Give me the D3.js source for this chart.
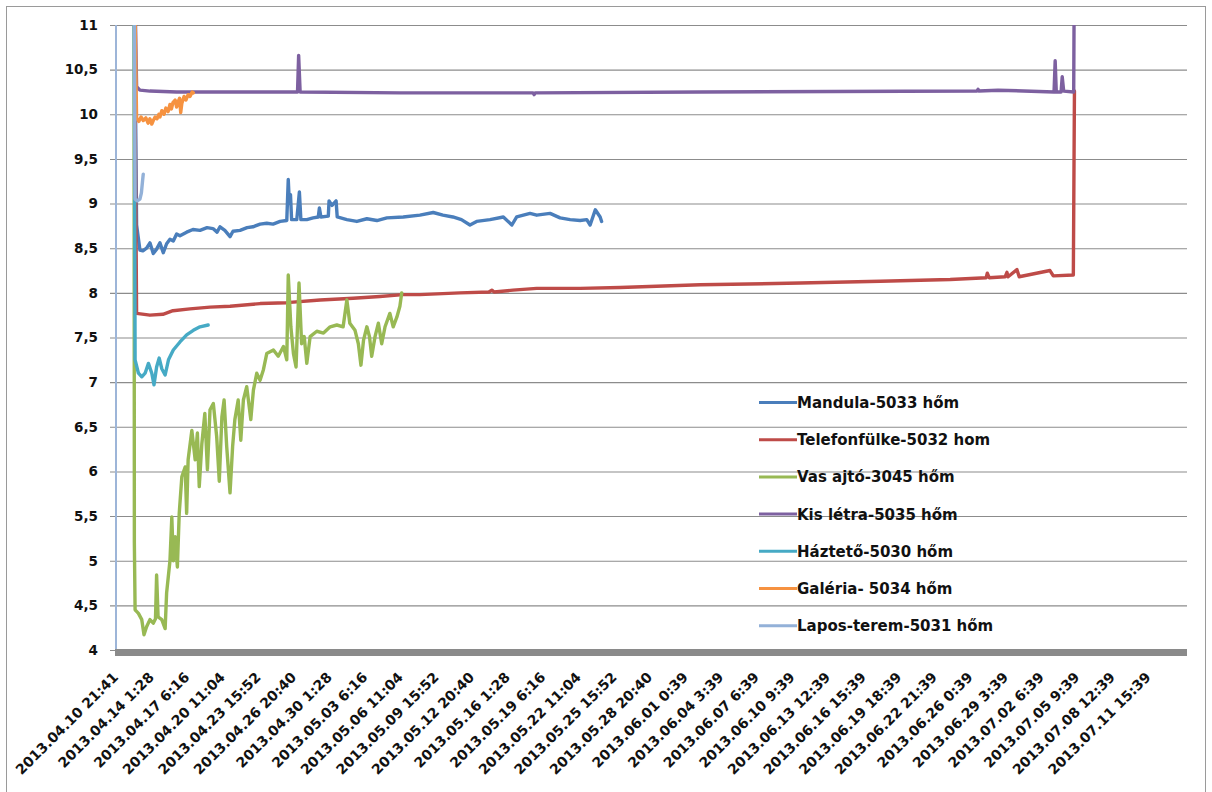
<!DOCTYPE html>
<html><head><meta charset="utf-8">
<script src="https://cdn.jsdelivr.net/npm/d3@7/dist/d3.min.js"></script>
<style>
html,body{margin:0;padding:0;background:#fff;}
svg{display:block;}
text{font-family:"DejaVu Sans",sans-serif;font-weight:bold;fill:#111;}
</style></head>
<body>
<svg id="chart" width="1212" height="792"></svg>
<script>
// ---- data ----
const categoryCount = 2888;       // number of rows on the category axis
const labelEvery = 96;            // a label every 96 rows
const tickLabels = [
  "2013.04.10 21:41","2013.04.14 1:28","2013.04.17 6:16","2013.04.20 11:04","2013.04.23 15:52",
  "2013.04.26 20:40","2013.04.30 1:28","2013.05.03 6:16","2013.05.06 11:04","2013.05.09 15:52",
  "2013.05.12 20:40","2013.05.16 1:28","2013.05.19 6:16","2013.05.22 11:04","2013.05.25 15:52",
  "2013.05.28 20:40","2013.06.01 0:39","2013.06.04 3:39","2013.06.07 6:39","2013.06.10 9:39",
  "2013.06.13 12:39","2013.06.16 15:39","2013.06.19 18:39","2013.06.22 21:39","2013.06.26 0:39",
  "2013.06.29 3:39","2013.07.02 6:39","2013.07.05 9:39","2013.07.08 12:39","2013.07.11 15:39"
];
const yTicks = [4,4.5,5,5.5,6,6.5,7,7.5,8,8.5,9,9.5,10,10.5,11];

const seriesNames = ["Mandula-5033 hőm","Telefonfülke-5032 hom","Vas ajtó-3045 hőm","Kis létra-5035 hőm",
  "Háztető-5030 hőm","Galéria- 5034 hőm","Lapos-terem-5031 hőm"];

// [row index, value]
const mandula = [[48,12],[55,8.76],[64,8.48],[72,8.47],[82,8.50],[91,8.56],[100,8.44],[109,8.49],[118,8.56],
  [127,8.45],[136,8.55],[145,8.60],[154,8.58],[163,8.66],[172,8.64],[190,8.68],[207,8.71],[226,8.70],[245,8.73],
  [261,8.72],[272,8.68],[280,8.74],[293,8.70],[307,8.63],[315,8.69],[334,8.70],[353,8.73],[369,8.74],[388,8.77],
  [406,8.78],[423,8.77],[442,8.80],[460,8.81],[464,9.27],[467,9.0],[470,9.1],[473,8.82],[487,8.82],[494,9.13],
  [498,8.82],[514,8.82],[531,8.84],[545,8.85],[548,8.95],[552,8.85],[572,8.86],[574,9.03],[582,8.98],[593,9.03],
  [596,8.85],[622,8.82],[649,8.80],[676,8.83],[703,8.81],[730,8.84],[774,8.85],[819,8.87],[855,8.90],[881,8.87],
  [908,8.85],[931,8.82],[954,8.76],[972,8.80],[1008,8.82],[1044,8.85],[1067,8.76],[1080,8.85],[1116,8.89],
  [1134,8.87],[1170,8.89],[1197,8.84],[1224,8.82],[1251,8.81],[1269,8.82],[1278,8.76],[1292,8.93],[1305,8.85],
  [1309,8.80]];

const telefonfulke = [[48,12],[55,7.77],[91,7.75],[126,7.76],[153,7.80],[199,7.82],[253,7.84],[307,7.85],
  [388,7.88],[460,7.89],[550,7.92],[639,7.94],[711,7.96],[773,7.98],[819,7.98],[927,8.00],[1005,8.01],
  [1013,8.03],[1019,8.01],[1070,8.03],[1134,8.05],[1251,8.05],[1359,8.06],[1575,8.09],[1845,8.11],[2061,8.13],
  [2249,8.15],[2346,8.17],[2349,8.22],[2354,8.17],[2397,8.18],[2402,8.23],[2405,8.18],[2429,8.26],[2435,8.18],
  [2518,8.25],[2527,8.19],[2581,8.20],[2584,10.26]];

const vasAjto = [[48,12],[49,5.2],[51,4.45],[60,4.41],[69,4.34],[75,4.17],[82,4.26],[91,4.34],[100,4.30],
  [106,4.35],[109,4.84],[113,4.37],[123,4.34],[132,4.24],[136,4.64],[145,5.0],[150,5.49],[154,5.0],[159,5.27],
  [165,4.93],[170,5.53],[177,5.94],[186,6.05],[190,5.53],[194,6.13],[204,6.46],[213,6.13],[219,6.43],[224,5.83],
  [231,6.31],[239,6.65],[246,6.02],[253,6.69],[262,6.76],[271,6.39],[278,5.89],[285,6.61],[291,6.80],[298,6.28],
  [307,5.76],[314,6.28],[320,6.58],[329,6.80],[336,6.35],[343,6.80],[352,6.95],[363,6.58],[370,6.91],[379,7.10],
  [388,7.02],[397,7.14],[406,7.32],[424,7.36],[437,7.29],[451,7.40],[460,7.25],[464,8.20],[471,7.62],[478,7.32],
  [485,7.17],[493,8.11],[500,7.43],[507,7.51],[514,7.21],[523,7.51],[541,7.57],[559,7.55],[577,7.62],[595,7.64],
  [612,7.62],[622,7.92],[630,7.66],[644,7.58],[653,7.43],[660,7.19],[667,7.47],[676,7.62],[683,7.51],[689,7.29],
  [698,7.51],[707,7.66],[716,7.43],[725,7.62],[738,7.77],[747,7.62],[757,7.73],[765,7.85],[770,8.0]];

const kisLetra = [[48,12],[55,10.31],[64,10.27],[91,10.26],[163,10.25],[226,10.25],[361,10.25],[489,10.25],
  [492,10.66],[496,10.25],[766,10.24],[1124,10.24],[1127,10.22],[1130,10.24],[1575,10.25],[2321,10.26],
  [2324,10.28],[2326,10.26],[2378,10.27],[2529,10.25],[2532,10.6],[2535,10.25],[2548,10.25],[2551,10.42],
  [2555,10.26],[2582,10.25],[2584,12]];

const haztetO = [[48,12],[51,7.25],[60,7.10],[69,7.06],[78,7.10],[87,7.21],[96,7.10],[102,6.97],[109,7.17],
  [116,7.27],[123,7.15],[132,7.08],[141,7.25],[154,7.36],[172,7.45],[190,7.53],[208,7.58],[226,7.62],[248,7.64]];

const galeria = [[48,12],[55,9.96],[61,9.92],[67,9.97],[73,9.93],[80,9.96],[86,9.90],[91,9.95],[96,9.89],
  [100,9.93],[105,9.97],[110,9.95],[115,10.00],[118,9.97],[123,10.04],[129,10.00],[134,10.07],[140,10.03],
  [145,10.11],[149,10.06],[153,10.13],[159,10.16],[163,10.08],[167,10.14],[171,10.18],[174,10.02],[177,10.12],
  [183,10.20],[188,10.16],[194,10.22],[199,10.20],[205,10.25],[208,10.24]];

const laposTerem = [[48,12],[51,9.05],[57,9.03],[64,9.05],[68,9.12],[71,9.25],[73,9.33]];

const seriesData = [mandula, telefonfulke, vasAjto, kisLetra, haztetO, galeria, laposTerem];
const seriesColors = ["#4A7EBB","#BE4B48","#98B954","#7D60A0","#46AAC5","#F69240","#93B1D8"];

// ---- layout ----
const svg = d3.select("#chart");
const L = 116, R = 1187, T = 25, B = 650;
const x = d3.scaleLinear().domain([0, categoryCount]).range([L, R]);
const y = d3.scaleLinear().domain([4, 11]).range([B, T]);

// chart area border
svg.append("rect").attr("x",6.5).attr("y",6.5).attr("width",1199).attr("height",800)
  .attr("fill","none").attr("stroke","#9a9a9a").attr("stroke-width",1);

// gridlines + y tick marks
const gy = svg.append("g").attr("transform", `translate(${R},0)`);
gy.call(d3.axisLeft(y).tickValues(yTicks).tickSize(R - L + 6).tickFormat(""));
gy.select(".domain").remove();
gy.selectAll(".tick line").attr("stroke","#8c8c8c").attr("stroke-width",1.1);

// y labels
const gyl = svg.append("g").attr("transform", `translate(${L},0)`);
gyl.call(d3.axisLeft(y).tickValues(yTicks).tickSize(0).tickPadding(18)
  .tickFormat(v => String(v).replace(".", ",")));
gyl.select(".domain").remove();
gyl.selectAll(".tick text").style("font-size","13.5px").style("font-family","DejaVu Sans")
  .style("font-weight","bold").attr("fill","#111");

// y axis line (light blue)
svg.append("line").attr("x1",L).attr("x2",L).attr("y1",T).attr("y2",B)
  .attr("stroke","#9db5d8").attr("stroke-width",2);

// series
const clip = svg.append("clipPath").attr("id","plotclip");
clip.append("rect").attr("x",L).attr("y",T).attr("width",R-L).attr("height",B-T);
const line = d3.line().x(d => x(d[0] + 0.5)).y(d => y(d[1]));
const gs = svg.append("g").attr("clip-path","url(#plotclip)");
seriesData.forEach((s, i) => {
  gs.append("path").attr("d", line(s)).attr("fill","none")
    .attr("stroke", seriesColors[i]).attr("stroke-width", 3.4)
    .attr("stroke-linejoin","round").attr("stroke-linecap","round");
});

// x axis bar
svg.append("line").attr("x1",L-1).attr("x2",R).attr("y1",652.5).attr("y2",652.5)
  .attr("stroke","#8a8a8a").attr("stroke-width",7);

// x labels
const gx = svg.append("g");
gx.selectAll("text").data(tickLabels).join("text")
  .attr("transform", (d, i) => `translate(${x(i * labelEvery + 0.5) + 3},678) rotate(-45)`)
  .attr("text-anchor","end")
  .style("font-size","14px")
  .text(d => d);

// legend
const legX = 759, legY0 = 402.5, legStep = 37.2;
const lg = svg.append("g");
seriesNames.forEach((n, i) => {
  const yy = legY0 + i * legStep;
  lg.append("line").attr("x1",legX).attr("x2",legX+38).attr("y1",yy).attr("y2",yy)
    .attr("stroke",seriesColors[i]).attr("stroke-width",3);
  lg.append("text").attr("x",legX+38).attr("y",yy).attr("dy","0.36em")
    .style("font-size","15px").text(n);
});
</script>
</body></html>
